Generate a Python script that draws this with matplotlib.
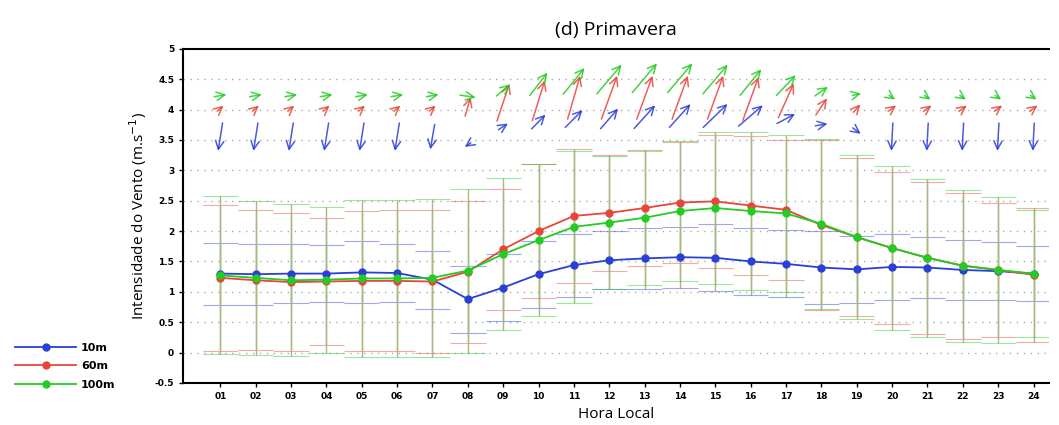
import numpy as np
import matplotlib.pyplot as plt

hours = np.arange(1, 25)
hour_labels = [f"{h:02d}" for h in hours]

mean_10 = [1.30, 1.29, 1.30, 1.30, 1.32, 1.31, 1.20, 0.88, 1.07, 1.29, 1.44, 1.52,
           1.55, 1.57, 1.56, 1.50, 1.46, 1.40, 1.37, 1.41, 1.40, 1.36, 1.34, 1.30]
mean_60 = [1.23, 1.19, 1.16, 1.17, 1.18, 1.18, 1.17, 1.33, 1.70, 2.00, 2.25, 2.30,
           2.38, 2.47, 2.49, 2.42, 2.35, 2.10, 1.90, 1.72, 1.56, 1.43, 1.36, 1.28]
mean_100 = [1.27, 1.23, 1.19, 1.20, 1.22, 1.22, 1.23, 1.35, 1.62, 1.85, 2.07, 2.14,
            2.22, 2.33, 2.38, 2.33, 2.29, 2.12, 1.90, 1.72, 1.56, 1.43, 1.36, 1.30]

std_10 = [0.51, 0.50, 0.49, 0.47, 0.51, 0.48, 0.48, 0.55, 0.55, 0.55, 0.52, 0.48,
          0.50, 0.50, 0.55, 0.55, 0.55, 0.60, 0.55, 0.55, 0.50, 0.50, 0.48, 0.45]
std_60 = [1.20, 1.15, 1.13, 1.05, 1.15, 1.16, 1.17, 1.17, 1.00, 1.10, 1.10, 0.95,
          0.95, 1.00, 1.10, 1.15, 1.15, 1.40, 1.30, 1.25, 1.25, 1.20, 1.10, 1.10]
std_100 = [1.30, 1.27, 1.25, 1.20, 1.30, 1.30, 1.30, 1.35, 1.25, 1.25, 1.25, 1.10,
           1.10, 1.15, 1.25, 1.30, 1.30, 1.40, 1.35, 1.35, 1.30, 1.25, 1.20, 1.05]

# wind vectors (u in hours, v in m/s units of the axis), centre height of each arrow
u_10 = [-0.15]*6 + [-0.15, -0.30, 0.40, 0.50, 0.60, 0.60, 0.70, 0.70, 0.80, 0.80, 0.65, 0.50, 0.35] + [-0.05]*5
v_10 = [-0.55]*6 + [-0.50, -0.12, 0.15, 0.30, 0.35, 0.40, 0.45, 0.45, 0.45, 0.40, 0.20, 0.05, -0.15] + [-0.55]*5
y_10 = [3.55]*7 + [3.42, 3.72, 3.80, 3.85, 3.85, 3.88, 3.90, 3.90, 3.90, 3.85, 3.75, 3.65] + [3.55]*5

u_60 = [0.30]*7 + [0.20, 0.40, 0.40, 0.40, 0.50, 0.50, 0.50, 0.50, 0.50, 0.50, 0.40, 0.30] + [0.35]*5
v_60 = [0.15]*7 + [0.40, 0.70, 0.75, 0.80, 0.80, 0.80, 0.80, 0.80, 0.80, 0.65, 0.35, 0.20] + [0.15]*5
y_60 = [4.02]*7 + [4.05, 4.12, 4.15, 4.20, 4.20, 4.20, 4.20, 4.20, 4.18, 4.15, 4.05, 4.02] + [4.02]*5

u_100 = [0.50]*7 + [0.60, 0.50, 0.60, 0.70, 0.80, 0.80, 0.80, 0.80, 0.70, 0.65, 0.50, 0.40] + [0.30]*5
v_100 = [0.05]*7 + [-0.05, 0.25, 0.45, 0.50, 0.55, 0.55, 0.55, 0.55, 0.50, 0.40, 0.20, 0.05] + [-0.12]*5
y_100 = [4.23]*7 + [4.22, 4.32, 4.42, 4.47, 4.50, 4.52, 4.52, 4.50, 4.45, 4.40, 4.30, 4.25] + [4.20]*5

series = [
    ("10m", mean_10, std_10, u_10, v_10, y_10, "#2a3fd6"),
    ("60m", mean_60, std_60, u_60, v_60, y_60, "#e8453c"),
    ("100m", mean_100, std_100, u_100, v_100, y_100, "#22cc22"),
]

fig = plt.figure(figsize=(10.59, 4.25), dpi=100)
ax = fig.add_axes([0.173, 0.099, 0.818, 0.786])

for yv in np.arange(0, 5.0, 0.5):
    ax.axhline(yv, color="#aaaaaa", lw=1, ls=(0, (1, 4)), zorder=0)

# error bars: olive stems, coloured caps one hour wide
for name, m, s, u, v, yc, col in series:
    m = np.array(m)
    s = np.array(s)
    ax.vlines(hours, m - s, m + s, color="#a8b880", lw=1, zorder=1)
    ax.hlines(m + s, hours - 0.5, hours + 0.5, color=col, lw=0.8, alpha=0.45, zorder=1)
    ax.hlines(m - s, hours - 0.5, hours + 0.5, color=col, lw=0.8, alpha=0.45, zorder=1)

lines = []
for name, m, s, u, v, yc, col in series:
    ln, = ax.plot(hours, m, "-o", color=col, lw=1.3, ms=5, label=name, zorder=3)
    lines.append(ln)
    for h, du, dv, y0 in zip(hours, u, v, yc):
        ax.annotate("", xy=(h + du / 2, y0 + dv / 2), xytext=(h - du / 2, y0 - dv / 2),
                    arrowprops=dict(arrowstyle="->,head_length=0.6,head_width=0.3",
                                    color=col, lw=1.1, alpha=0.85))

ax.set_xlim(-0.05, 24.45)
ax.set_ylim(-0.5, 5)
ax.set_xticks(hours)
ax.set_xticklabels(hour_labels)
ax.set_yticks(np.arange(-0.5, 5.01, 0.5))
ax.set_yticklabels(["-0.5", "0", "0.5", "1", "1.5", "2", "2.5", "3", "3.5", "4", "4.5", "5"])
ax.tick_params(labelsize=6.5, length=3, width=1)
for t in ax.get_xticklabels() + ax.get_yticklabels():
    t.set_fontweight("bold")
ax.spines["right"].set_visible(False)
for sp in ("left", "bottom", "top"):
    ax.spines[sp].set_linewidth(1.5)

ax.set_title("(d) Primavera", fontsize=14, family="Open Sans", pad=10)
ax.set_ylabel("Intensidade do Vento (m.s$^{-1}$)", fontsize=11, family="Open Sans")
ax.set_xlabel("Hora Local", fontsize=11, family="Open Sans")

fig.legend(handles=lines, loc="lower left", bbox_to_anchor=(0.005, 0.06), frameon=False,
           handlelength=5.5, labelspacing=0.75, handletextpad=0.4,
           prop={"weight": "bold", "size": 8})

fig.savefig("out.png", dpi=100)
